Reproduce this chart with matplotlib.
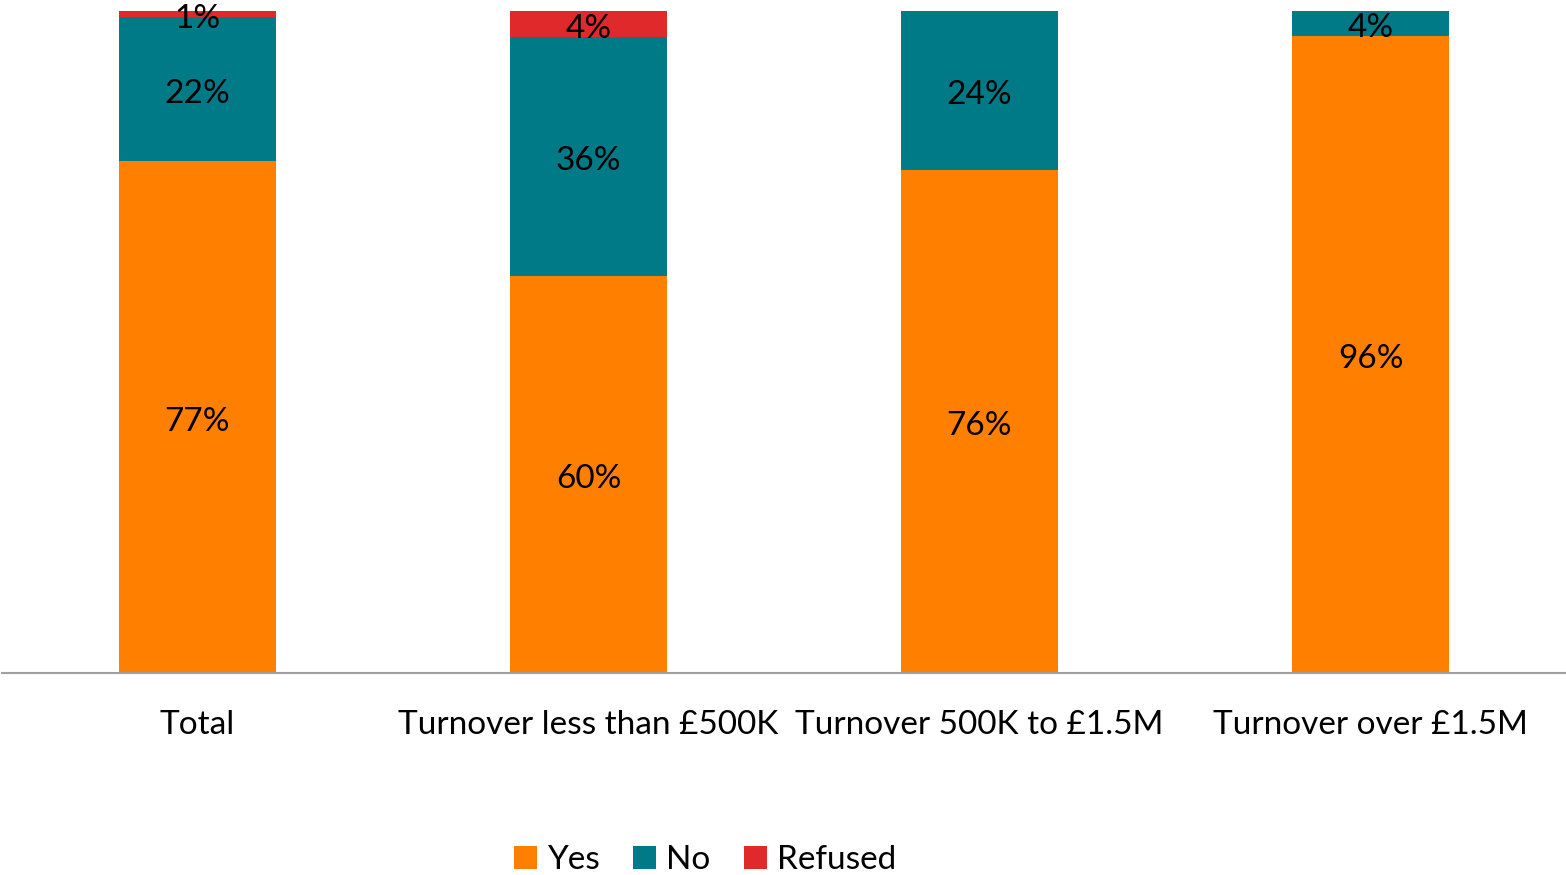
import numpy as np
import matplotlib.pyplot as plt

plt.rcParams['font.family'] = ['Lato', 'DejaVu Sans']

categories = ["Total", "Turnover less than £500K", "Turnover 500K to £1.5M", "Turnover over £1.5M"]
yes = [77.3, 60.0, 76.0, 96.2]
no = [21.8, 36.1, 24.0, 3.8]
refused = [0.9, 3.9, 0.0, 0.0]
yes_lbl = ["77%", "60%", "76%", "96%"]
no_lbl = ["22%", "36%", "24%", "4%"]
ref_lbl = ["1%", "4%", "", ""]

colors = {"Yes": "#FF8000", "No": "#007A87", "Refused": "#E0292B"}

fig = plt.figure(figsize=(15.66, 8.75), dpi=100)
ax = fig.add_axes([2 / 1566, 202 / 875, 1564 / 1566, 662 / 875])

x = np.arange(len(categories))
w = 0.4
yes = np.array(yes)
no = np.array(no)
refused = np.array(refused)

b1 = ax.bar(x, yes, w, color=colors["Yes"], label="Yes")
b2 = ax.bar(x, no, w, bottom=yes, color=colors["No"], label="No")
b3 = ax.bar(x, refused, w, bottom=yes + no, color=colors["Refused"], label="Refused")

fs = 24
for bars, labels in ((b1, yes_lbl), (b2, no_lbl), (b3, ref_lbl)):
    for rect, lab in zip(bars, labels):
        if not lab:
            continue
        cy = rect.get_y() + rect.get_height() / 2
        ax.text(rect.get_x() + rect.get_width() / 2, cy - 0.7, lab, ha="center", va="center",
                fontsize=fs, color="black")

ax.set_xlim(-0.5, len(categories) - 0.5)
ax.set_ylim(0, 100)
ax.set_xticks(x)
ax.set_xticklabels(categories, fontsize=fs)
ax.tick_params(axis="x", length=0, pad=27)
ax.set_yticks([])
for s in ("top", "right", "left"):
    ax.spines[s].set_visible(False)
ax.spines["bottom"].set_color("#A0A0A0")
ax.spines["bottom"].set_linewidth(1.5)

fig.legend(handles=[b1, b2, b3], loc="center", bbox_to_anchor=(705 / 1566, 1 - 860 / 875),
           ncol=3, frameon=False, fontsize=fs, handlelength=0.7, handleheight=0.7,
           handletextpad=0.3, columnspacing=1.0)

plt.savefig("out.png", dpi=100)
